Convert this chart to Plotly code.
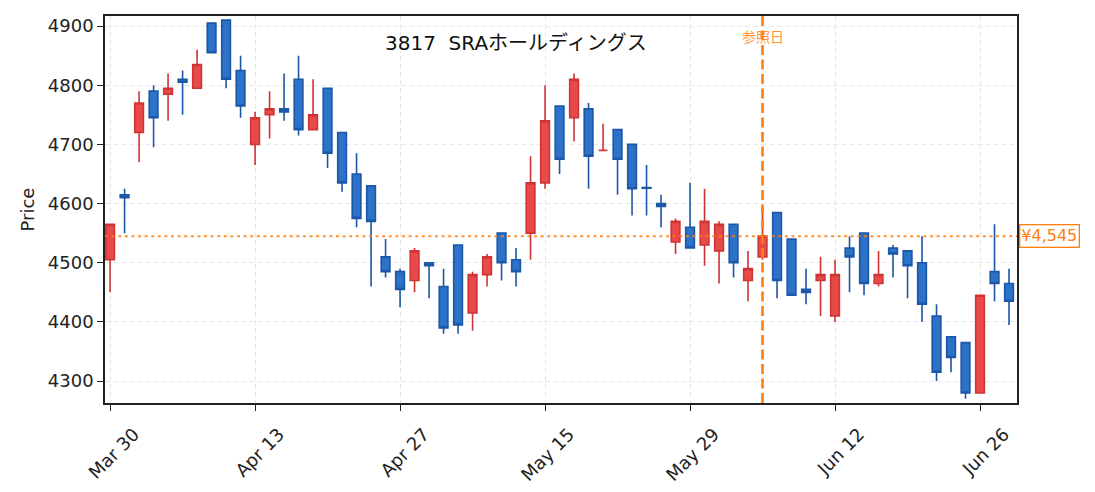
import pandas as pd
import plotly.graph_objects as go

# trading days (weekends + golden week holidays removed)
holidays = ["2020-04-29", "2020-05-04", "2020-05-05", "2020-05-06"]
dates = pd.bdate_range("2020-03-30", "2020-06-30", freq="C", holidays=holidays)

opens = [4505, 4615, 4720, 4790, 4785, 4810, 4795, 4905, 4910, 4825,
         4700, 4750, 4760, 4810, 4725, 4795, 4720, 4650, 4630, 4510,
         4485, 4470, 4500, 4460, 4530, 4415, 4480, 4550, 4505, 4550,
         4635, 4765, 4745, 4760, 4690, 4725, 4700, 4627, 4600, 4535,
         4560, 4530, 4520, 4565, 4470, 4510, 4585, 4540, 4455, 4470,
         4410, 4525, 4550, 4465, 4525, 4520, 4500, 4410, 4375, 4365,
         4280, 4485, 4465]
highs = [4565, 4625, 4790, 4800, 4820, 4825, 4860, 4905, 4910, 4850,
         4755, 4790, 4820, 4850, 4810, 4795, 4720, 4685, 4630, 4540,
         4490, 4525, 4500, 4490, 4530, 4485, 4515, 4550, 4525, 4680,
         4800, 4765, 4820, 4770, 4735, 4725, 4700, 4665, 4615, 4575,
         4635, 4625, 4570, 4565, 4520, 4595, 4585, 4540, 4490, 4510,
         4505, 4545, 4550, 4520, 4530, 4520, 4545, 4430, 4375, 4365,
         4445, 4565, 4490]
lows = [4450, 4550, 4670, 4695, 4740, 4750, 4795, 4855, 4795, 4745,
        4665, 4710, 4740, 4715, 4725, 4660, 4620, 4560, 4460, 4475,
        4425, 4450, 4440, 4380, 4380, 4385, 4460, 4470, 4460, 4505,
        4625, 4650, 4705, 4625, 4690, 4615, 4580, 4580, 4560, 4515,
        4525, 4495, 4465, 4475, 4435, 4505, 4440, 4445, 4430, 4410,
        4400, 4450, 4445, 4460, 4475, 4440, 4400, 4300, 4315, 4270,
        4280, 4435, 4395]
closes = [4565, 4610, 4770, 4745, 4795, 4805, 4835, 4855, 4810, 4765,
          4745, 4760, 4755, 4725, 4750, 4685, 4635, 4575, 4570, 4485,
          4455, 4520, 4495, 4390, 4395, 4480, 4510, 4500, 4485, 4635,
          4740, 4675, 4810, 4680, 4690, 4675, 4625, 4626, 4595, 4570,
          4525, 4570, 4565, 4500, 4490, 4545, 4470, 4445, 4450, 4480,
          4480, 4510, 4465, 4480, 4515, 4495, 4430, 4315, 4340, 4280,
          4445, 4465, 4435]

title_text = "3817\u00a0 SRAホールディングス"
ref_idx = 45          # 参照日 = 2020-06-05
ref_price = closes[ref_idx]
tick_step = 10

ORANGE = "#ff7f0e"
FONT = "DejaVu Sans, Noto Sans CJK JP"

x = list(range(len(dates)))
tickvals = x[::tick_step]
ticktext = [d.strftime("%b %d").replace(" 0", " ") for d in dates[::tick_step]]

fig = go.Figure()
fig.add_trace(go.Candlestick(
    x=x, open=opens, high=highs, low=lows, close=closes,
    increasing=dict(fillcolor="#e84a4a", line=dict(color="#cf3434", width=1.6)),
    decreasing=dict(fillcolor="#2b72c8", line=dict(color="#1c56a6", width=1.6)),
    whiskerwidth=0, showlegend=False,
))

# reference day / reference price
fig.add_shape(type="line", xref="x", yref="paper", x0=ref_idx, x1=ref_idx, y0=0, y1=1,
              line=dict(color=ORANGE, width=2.6, dash="10px,4.5px"))
fig.add_shape(type="line", xref="paper", yref="y", x0=0, x1=1, y0=ref_price, y1=ref_price,
              line=dict(color="rgba(255,127,14,0.85)", width=2, dash="3px,3.6px"))

fig.add_annotation(x=ref_idx, xref="x", y=0.946, yref="paper", yanchor="middle", text="参照日",
                   showarrow=False, font=dict(size=14, color="rgba(255,127,14,0.85)", family=FONT))
fig.add_annotation(x=1, xref="paper", xanchor="left", xshift=2, y=ref_price, yref="y",
                   text=f"¥{ref_price:,}", showarrow=False,
                   font=dict(size=16, color=ORANGE, family=FONT),
                   bgcolor="white", bordercolor=ORANGE, borderwidth=1.3, borderpad=1)
fig.add_annotation(x=0.4507, xref="paper", y=0.93, yref="paper", yanchor="middle", text=title_text,
                   showarrow=False, font=dict(size=20, color="#111111", family=FONT))

axis_common = dict(
    showline=True, linecolor="#222222", linewidth=1.6, mirror=True,
    ticks="outside", ticklen=6, tickwidth=1.4, tickcolor="#222222",
    showgrid=True, gridcolor="#e8e8e8", gridwidth=1.2, griddash="5px,3px",
    zeroline=False, tickfont=dict(size=18, color="#222222", family=FONT),
)

# page body has an 8px margin, so margins are shifted to land the plot box
fig.update_layout(
    width=1095, height=492,
    margin=dict(l=97, r=86, t=6, b=97),
    paper_bgcolor="white", plot_bgcolor="white",
    font=dict(family=FONT, color="#222222"),
    boxgap=0.4, boxgroupgap=0,
    xaxis=dict(axis_common, range=[-0.35, 62.55], tickvals=tickvals, ticktext=ticktext,
               tickangle=-45, ticklabelshift=24, ticklabelstandoff=6,
               rangeslider=dict(visible=False)),
    yaxis=dict(axis_common, range=[4263, 4917], dtick=100,
               title=dict(text="Price", font=dict(size=18, family=FONT), standoff=8)),
)

fig.write_html("out.html")
